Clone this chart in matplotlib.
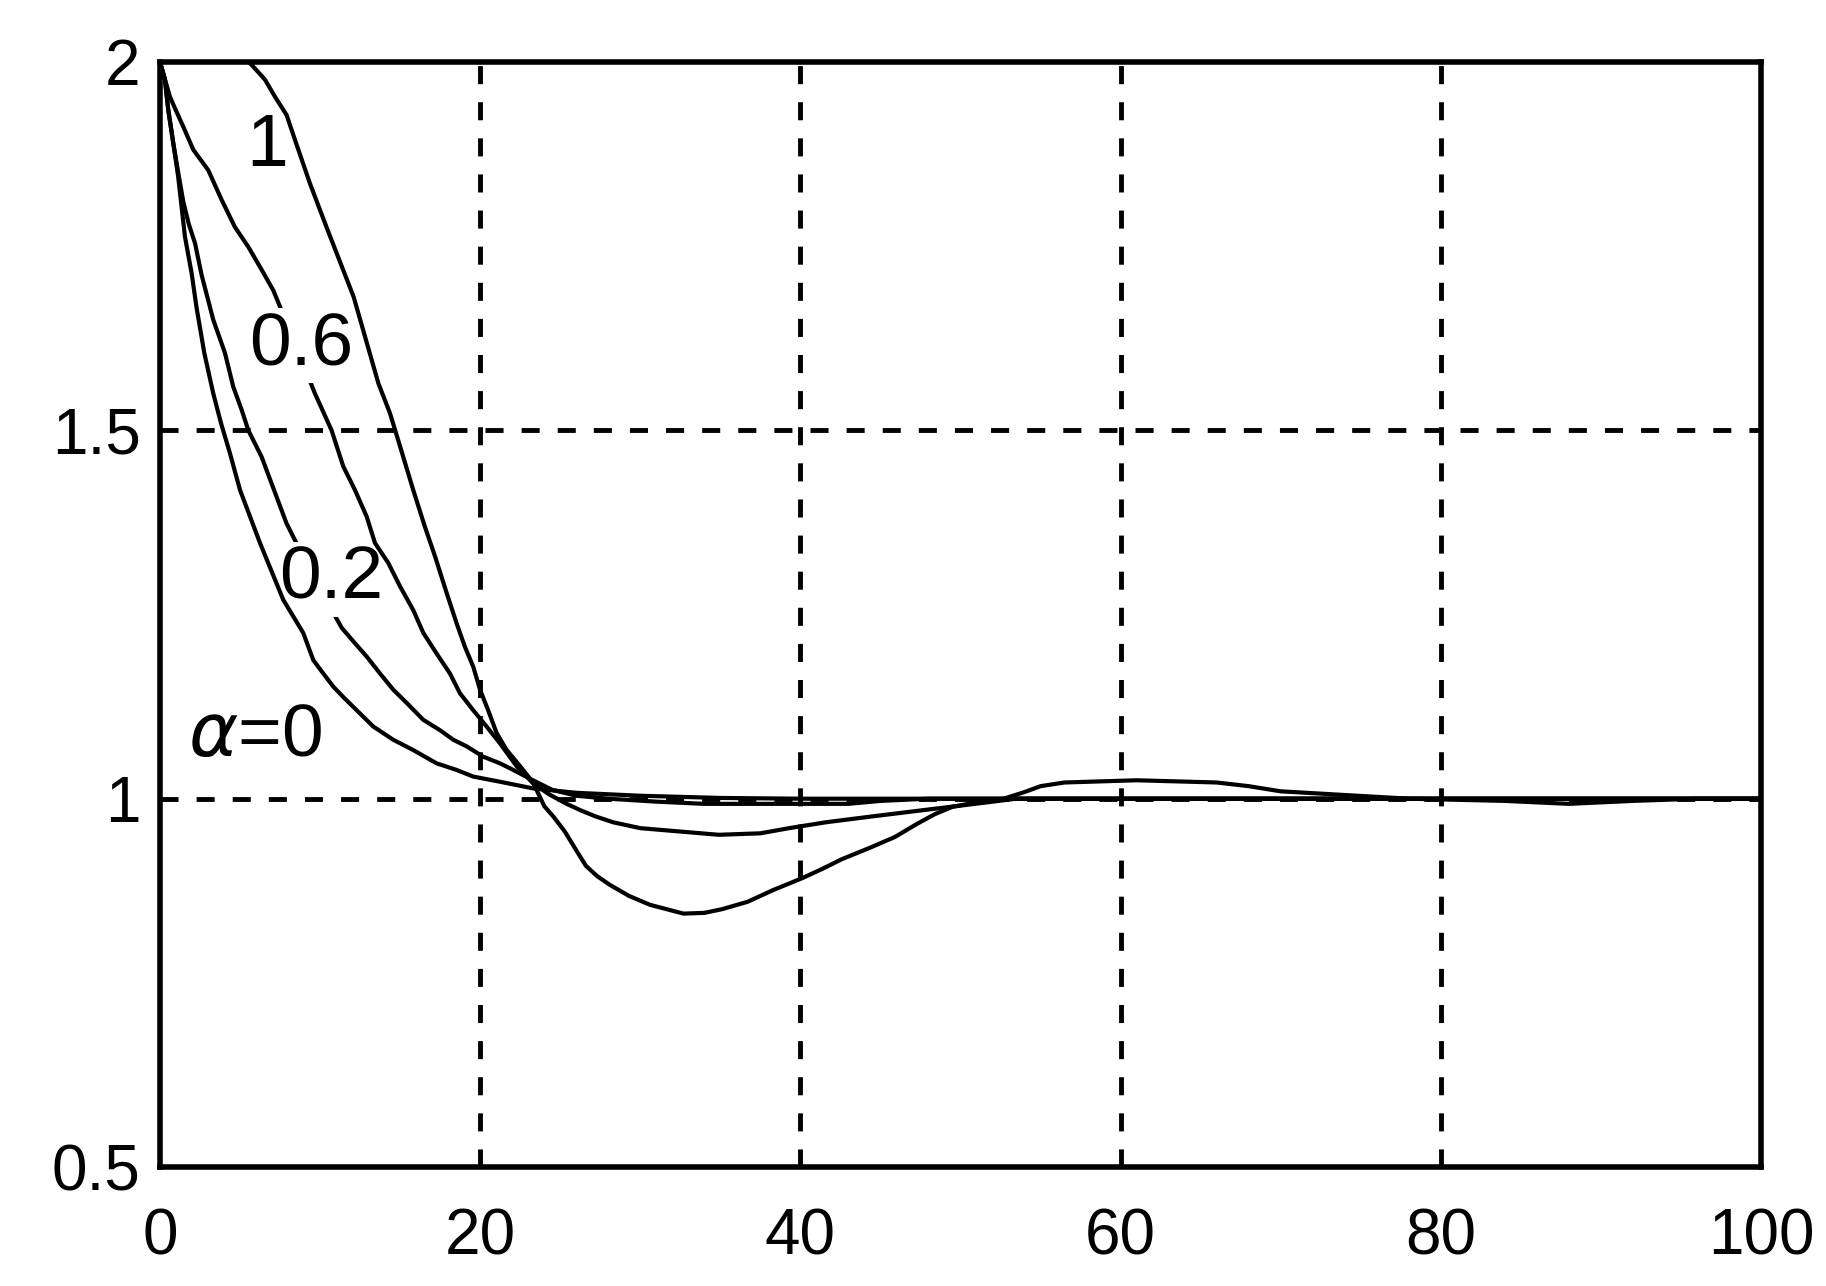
import matplotlib
matplotlib.use("Agg")
import matplotlib.pyplot as plt

plt.rcParams['font.family'] = ['Liberation Sans', 'DejaVu Sans']
plt.rcParams['lines.scale_dashes'] = False
plt.rcParams['mathtext.fontset'] = 'dejavusans'

# values
x_ticks = [0, 20, 40, 60, 80, 100]
x_tick_labels = ["0", "20", "40", "60", "80", "100"]
y_ticks = [0.5, 1.0, 1.5, 2.0]
y_tick_labels = ["0.5", "1", "1.5", "2"]

# alpha = 0
x_a0 = [0, 0.31, 0.52, 0.83, 1.14, 1.56, 1.98, 2.29, 2.77, 3.33, 3.81, 4.37, 5.0,
        6.25, 7.7, 8.95, 9.58, 10.2, 10.83, 11.45, 12.29, 13.32, 14.57, 15.82,
        17.28, 18.53, 19.57, 21.24, 23.3, 26, 30, 35, 40, 60, 100]
y_a0 = [2.0, 1.976, 1.935, 1.89, 1.844, 1.763, 1.713, 1.666, 1.605, 1.55, 1.51,
        1.469, 1.419, 1.347, 1.27, 1.225, 1.188, 1.17, 1.152, 1.138, 1.12, 1.098,
        1.08, 1.066, 1.048, 1.039, 1.03, 1.023, 1.014, 1.008, 1.004, 1.001, 1.0,
        1.0, 1.0]

# alpha = 0.2
x_a02 = [0, 0.31, 0.52, 0.83, 1.14, 1.46, 1.8, 2.19, 2.6, 3.33, 4.06, 4.58, 5.1,
         5.52, 6.35, 7.9, 9.6, 11.35, 12.18, 12.91, 13.74, 14.57, 15.41, 16.45,
         17.49, 18.32, 19.16, 20.19, 21.24, 22.07, 23.3, 24.5, 26, 28, 31, 34, 43,
         45, 48, 60, 100]
y_a02 = [2.0, 1.976, 1.935, 1.89, 1.85, 1.81, 1.78, 1.754, 1.711, 1.65, 1.605,
         1.559, 1.528, 1.5, 1.464, 1.374, 1.3, 1.232, 1.211, 1.193, 1.17, 1.148,
         1.13, 1.107, 1.093, 1.08, 1.071, 1.057, 1.048, 1.039, 1.025, 1.012,
         1.004, 1.0, 0.996, 0.993, 0.993, 0.997, 1.0, 1.0, 1.0]

# alpha = 0.6
x_a06 = [0, 0.62, 0.94, 1.46, 2.08, 3.02, 3.85, 4.68, 5.52, 6.35, 7.08, 8.4,
         9.68, 10.72, 11.45, 12.18, 12.91, 13.43, 14.26, 15.0, 15.82, 16.45,
         17.28, 18.11, 18.74, 19.57, 20.4, 21.24, 22.28, 23.3, 24.3, 25.4, 26.3,
         27.2, 28.3, 30, 34.9, 37.5, 39.3, 41.6, 44.5, 47.5, 50.9, 53.5, 100]
y_a06 = [2.0, 1.953, 1.937, 1.912, 1.881, 1.853, 1.813, 1.776, 1.749, 1.718,
         1.69, 1.62, 1.55, 1.5, 1.451, 1.419, 1.383, 1.347, 1.32, 1.288, 1.256,
         1.225, 1.197, 1.17, 1.143, 1.12, 1.098, 1.075, 1.044, 1.021, 1.006,
         0.993, 0.984, 0.976, 0.968, 0.96, 0.951, 0.953, 0.96, 0.968, 0.976,
         0.984, 0.993, 1.0, 1.0]

# alpha = 1
x_a1 = [0, 2, 4, 5.73, 6.56, 7.18, 7.91, 8.5, 9.37, 10.4, 12.1, 13.64, 14.37,
        15.0, 15.82, 16.55, 17.18, 17.91, 18.53, 19.05, 19.57, 19.99, 20.5,
        21.03, 21.66, 22.5, 23.3, 24.0, 24.6, 25.3, 26.0, 26.6, 27.3, 28.1, 29.3,
        30.6, 32.7, 34.0, 35.1, 36.7, 38.3, 40.1, 41.3, 42.6, 44.3, 45.9, 47.3,
        48.4, 49.5, 51, 52.7, 54, 55, 56.5, 61, 66, 68, 70, 74, 78, 84, 88, 92,
        96, 100]
y_a1 = [2.0, 2.025, 2.03, 1.996, 1.976, 1.953, 1.928, 1.89, 1.835, 1.776, 1.681,
        1.564, 1.523, 1.478, 1.419, 1.369, 1.329, 1.279, 1.238, 1.206, 1.179,
        1.148, 1.12, 1.089, 1.066, 1.044, 1.022, 0.99, 0.975, 0.955, 0.93, 0.909,
        0.895, 0.883, 0.868, 0.856, 0.844, 0.845, 0.85, 0.86, 0.876, 0.892,
        0.904, 0.918, 0.933, 0.948, 0.966, 0.979, 0.989, 0.995, 1.0, 1.009,
        1.017, 1.022, 1.025, 1.022, 1.017, 1.01, 1.005, 1.0, 0.997, 0.993,
        0.997, 1.0, 1.0]

fig = plt.figure(figsize=(18.26, 12.86), dpi=100)
ax = fig.add_axes([0.0876, 0.0925, 0.8768, 0.8593])

ax.set_xlim(0, 100)
ax.set_ylim(0.5, 2.0)
ax.set_xticks(x_ticks)
ax.set_xticklabels(x_tick_labels)
ax.set_yticks(y_ticks)
ax.set_yticklabels(y_tick_labels)
ax.tick_params(length=0, labelsize=46)
ax.tick_params(axis='x', pad=29)
ax.tick_params(axis='y', pad=14)

for s in ax.spines.values():
    s.set_linewidth(4)
    s.set_zorder(10)

for xv in x_ticks[1:-1]:
    ax.axvline(xv, color='black', lw=3.5, linestyle=(0, (13, 13)), zorder=1)
for yv in y_ticks[1:-1]:
    ax.axhline(yv, color='black', lw=3.5, linestyle=(0, (13, 13)), zorder=1)

lw = 3
ax.plot(x_a02, y_a02, color='black', lw=lw, zorder=2)
ax.plot(x_a06, y_a06, color='black', lw=lw, zorder=4)
ax.plot(x_a0, y_a0, color='black', lw=lw, zorder=6)
ax.plot(x_a1, y_a1, color='black', lw=lw, zorder=6)

box = dict(facecolor='white', edgecolor='none', pad=2)
ax.text(6.7, 1.885, "1", fontsize=54, ha='center', va='center', zorder=7)
ax.text(8.84, 1.615, "0.6", fontsize=54, ha='center', va='center',
        bbox=box, zorder=5)
ax.text(10.7, 1.298, "0.2", fontsize=54, ha='center', va='center',
        bbox=box, zorder=3)
ax.text(5.93, 1.085, r"$\alpha$=0", fontsize=54, ha='center', va='center',
        zorder=7)

fig.savefig("out.png", dpi=100)
